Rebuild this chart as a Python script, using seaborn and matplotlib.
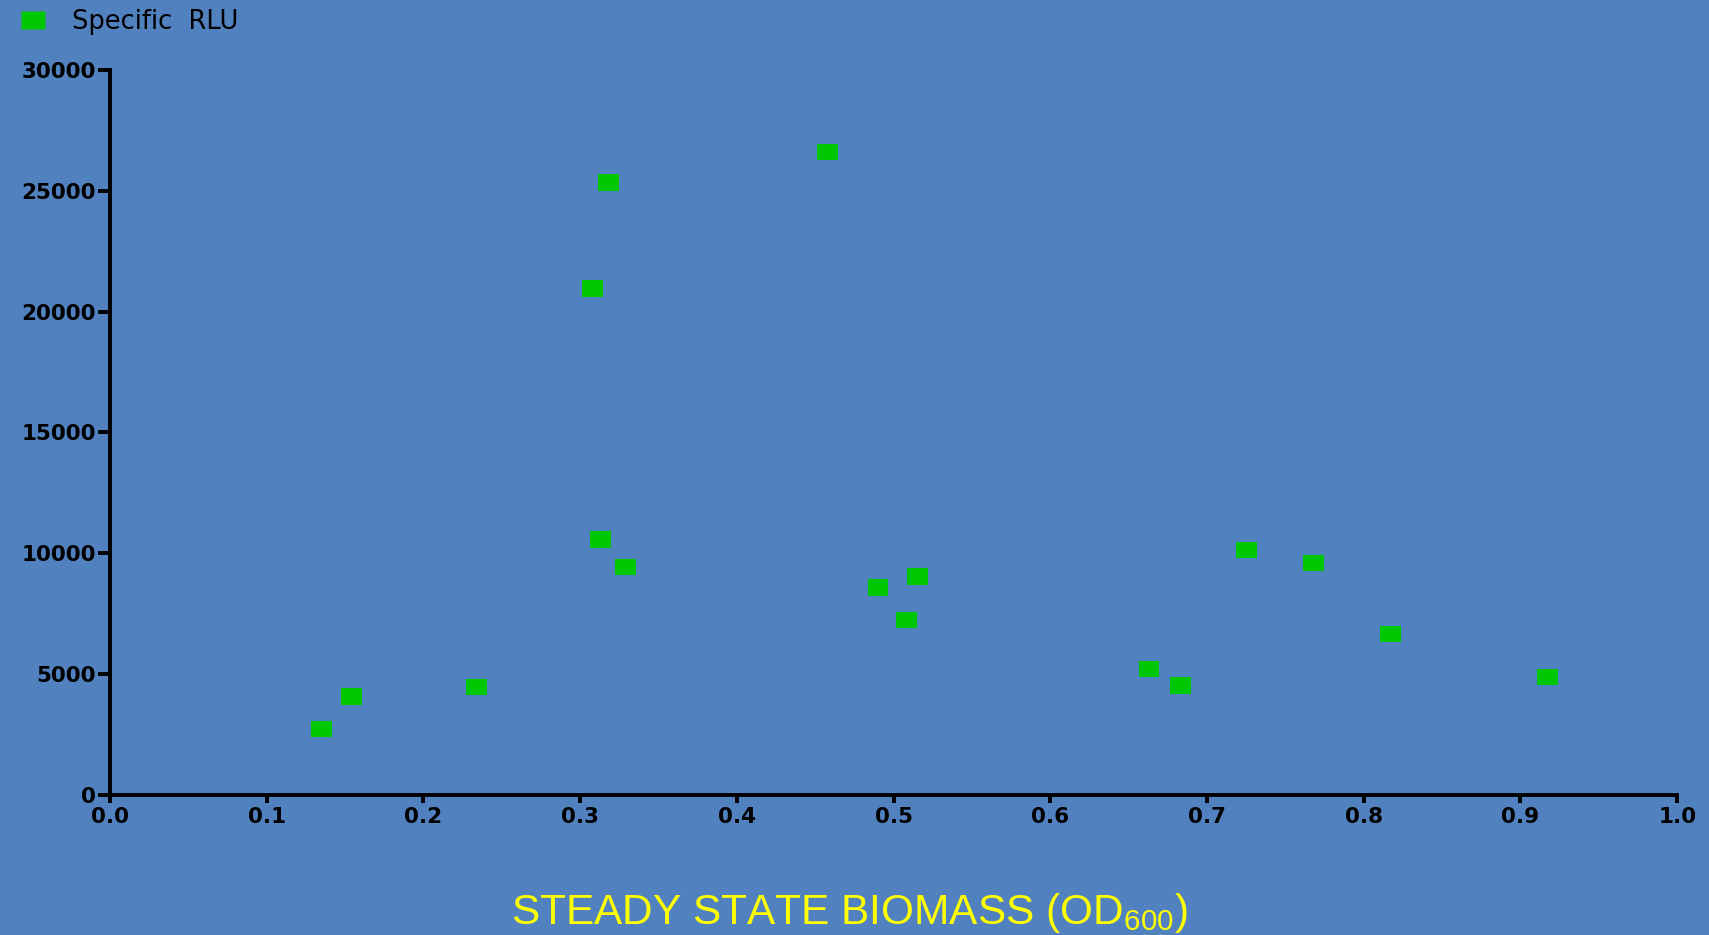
import matplotlib
matplotlib.use("Agg")
import matplotlib.pyplot as plt
import seaborn as sns
import pandas as pd

# --- data ---
biomass = [0.135, 0.154, 0.234, 0.308, 0.318, 0.313, 0.329, 0.458, 0.490,
           0.508, 0.515, 0.663, 0.683, 0.725, 0.768, 0.817, 0.917]
specific_rlu = [2710, 4070, 4470, 20960, 25350, 10570, 9440, 26610, 8580,
                7230, 9040, 5200, 4520, 10120, 9580, 6640, 4880]
x_ticks = [0.0, 0.1, 0.2, 0.3, 0.4, 0.5, 0.6, 0.7, 0.8, 0.9, 1.0]
y_ticks = [0, 5000, 10000, 15000, 20000, 25000, 30000]
series_name = "Specific  RLU"

BG = "#5181BF"
GREEN = "#00C800"

sns.set_style("ticks")
plt.rcParams['font.family'] = ['DejaVu Sans']
plt.rcParams['mathtext.fontset'] = 'custom'
plt.rcParams['mathtext.rm'] = 'Liberation Sans'
plt.rcParams['mathtext.default'] = 'regular'

df = pd.DataFrame({"x": biomass, "y": specific_rlu})

fig = plt.figure(figsize=(17.09, 9.35), dpi=100, facecolor=BG)
ax = fig.add_axes([0.0644, 0.150, 0.917, 0.775])
ax.set_facecolor(BG)

# wide rectangular markers like the original
rect = [(-1, -0.78), (1, -0.78), (1, 0.78), (-1, 0.78)]
sns.scatterplot(data=df, x="x", y="y", ax=ax, marker=rect, s=225,
                color=GREEN, edgecolor="none", linewidth=0, legend=False)

ax.set_xlim(0, 1.0)
ax.set_ylim(0, 30000)
ax.set_xticks(x_ticks)
ax.set_xticklabels([f"{t:.1f}" for t in x_ticks])
ax.set_yticks(y_ticks)
ax.set_yticklabels([str(t) for t in y_ticks])
ax.set_xlabel("")
ax.set_ylabel("")

for s in ["top", "right"]:
    ax.spines[s].set_visible(False)
for s in ["left", "bottom"]:
    ax.spines[s].set_linewidth(2.8)
    ax.spines[s].set_color("black")
ax.tick_params(axis="both", direction="out", width=2.8,
               colors="black", labelsize=15.5)
ax.tick_params(axis="x", length=6, pad=3)
ax.tick_params(axis="y", length=9, pad=1)
for lab in ax.get_xticklabels() + ax.get_yticklabels():
    lab.set_fontweight("bold")

# legend in the top-left corner
handle = plt.Line2D([], [], marker=rect, linestyle="none", markersize=17,
                    markerfacecolor=GREEN, markeredgecolor="none")
leg = fig.legend([handle], [series_name], loc="upper left",
                 bbox_to_anchor=(0.003, 1.006), frameon=False, fontsize=18.5,
                 handlelength=1.1, handletextpad=0.95, borderaxespad=0.15)
for t in leg.get_texts():
    t.set_color("black")

fig.text(0.497, 0.012, r"STEADY STATE BIOMASS (OD$_{600}$)", color="yellow",
         ha="center", va="baseline", fontsize=30.5, family=['Liberation Sans'])

fig.savefig("out.png", dpi=100, facecolor=BG)
